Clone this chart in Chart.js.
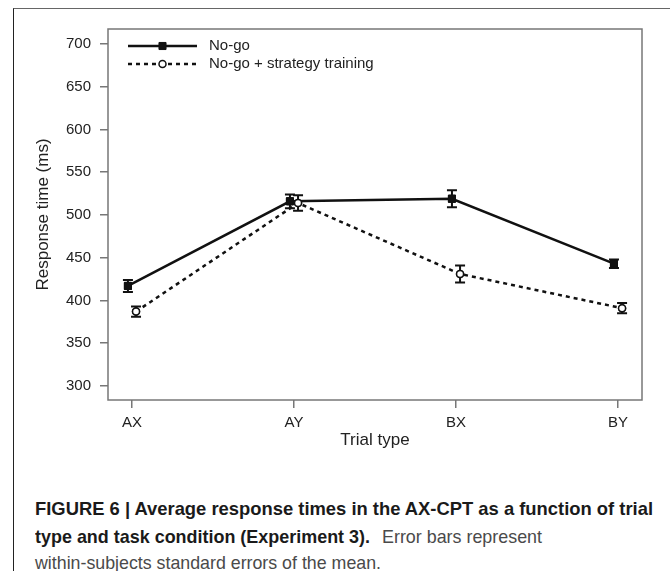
<!DOCTYPE html>
<html>
<head>
<meta charset="utf-8">
<script src="https://cdn.jsdelivr.net/npm/chart.js@4.4.1/dist/chart.umd.min.js"></script>
<style>
  html, body { margin: 0; padding: 0; background: #fff; }
  body { width: 670px; height: 571px; position: relative; overflow: hidden; font-family: "Liberation Sans", Arial, sans-serif; }
  #frame { position: absolute; left: 13px; top: 8px; width: 670px; height: 600px;
           border-top: 1.5px solid #666; border-left: 1.5px solid #222; }
  #wrap { position: absolute; left: 0; top: 0; width: 670px; height: 460px; }
  .cap { position: absolute; font-size: 19px; white-space: nowrap; display: inline-block; transform-origin: 0 0; }
  .bold { font-weight: bold; color: #1a1a1a; }
  .reg { color: #4a4a4a; }
</style>
</head>
<body>
<div id="frame"></div>
<div id="wrap"><canvas id="chart" width="670" height="460"></canvas></div>
<span class="cap bold" style="left:35px;top:498px" data-w="618">FIGURE 6 | Average response times in the AX-CPT as a function of trial</span>
<span class="cap bold" style="left:35px;top:526px" data-w="335">type and task condition (Experiment 3).</span>
<span class="cap reg" style="left:382px;top:526px" data-w="160">Error bars represent</span>
<span class="cap reg" style="left:35px;top:552px" data-w="346">within-subjects standard errors of the mean.</span>
<script>
const trialTypes = ["AX", "AY", "BX", "BY"];
const noGo = [417, 516, 519, 443];
const noGoSE = [7, 8, 10, 5];
const strategy = [387, 514, 431, 391];
const strategySE = [6, 9, 10, 6];
const yTicks = [300, 350, 400, 450, 500, 550, 600, 650, 700];

const DODGE = 0.025;

function toPoints(values, shift) {
  return values.map((v, i) => ({ x: i + shift, y: v }));
}

// squeeze caption lines to the widths of the printed figure
document.querySelectorAll(".cap").forEach((el) => {
  const w = el.getBoundingClientRect().width;
  el.style.transform = `scaleX(${Number(el.dataset.w) / w})`;
});

// whiskers with caps, drawn from the SE arrays
const errorBars = {
  id: "errorBars",
  afterDatasetsDraw(chart) {
    const ctx = chart.ctx;
    const x = chart.scales.x;
    const y = chart.scales.y;
    chart.data.datasets.forEach((ds) => {
      ctx.save();
      ctx.strokeStyle = "#111";
      ctx.lineWidth = 2;
      ds.data.forEach((p, i) => {
        const px = x.getPixelForValue(p.x);
        const top = y.getPixelForValue(p.y + ds.se[i]);
        const bot = y.getPixelForValue(p.y - ds.se[i]);
        ctx.beginPath();
        ctx.moveTo(px, top);
        ctx.lineTo(px, bot);
        ctx.moveTo(px - 5, top);
        ctx.lineTo(px + 5, top);
        ctx.moveTo(px - 5, bot);
        ctx.lineTo(px + 5, bot);
        ctx.stroke();
      });
      ctx.restore();
    });
    // points back on top of the whiskers
    chart.data.datasets.forEach((ds, di) => {
      chart.getDatasetMeta(di).data.forEach((el) => el.draw(ctx, chart.chartArea));
    });
  },
};

// plot box
const plotBox = {
  id: "plotBox",
  afterDraw(chart) {
    const { ctx, chartArea: a } = chart;
    ctx.save();
    ctx.strokeStyle = "#777";
    ctx.lineWidth = 1.5;
    ctx.strokeRect(a.left, a.top, a.right - a.left, a.bottom - a.top);
    ctx.restore();
  },
};

// legend inside the plot: line sample with marker in the middle
const lineLegend = {
  id: "lineLegend",
  afterDraw(chart) {
    const ctx = chart.ctx;
    const a = chart.chartArea;
    ctx.save();
    chart.data.datasets.forEach((ds, i) => {
      const yy = a.top + 17 + i * 18;
      const x0 = a.left + 20;
      const x1 = a.left + 89;
      const xm = (x0 + x1) / 2;
      ctx.strokeStyle = ds.borderColor;
      ctx.lineWidth = ds.borderWidth;
      ctx.setLineDash(ds.borderDash || []);
      ctx.beginPath();
      ctx.moveTo(x0, yy);
      ctx.lineTo(x1, yy);
      ctx.stroke();
      ctx.setLineDash([]);
      ctx.fillStyle = ds.pointBackgroundColor;
      ctx.strokeStyle = ds.pointBorderColor;
      ctx.lineWidth = ds.pointBorderWidth;
      ctx.beginPath();
      if (ds.pointStyle === "rect") {
        const s = ds.pointRadius * Math.SQRT1_2;
        ctx.rect(xm - s, yy - s, 2 * s, 2 * s);
      } else {
        ctx.arc(xm, yy, ds.pointRadius, 0, Math.PI * 2);
      }
      ctx.fill();
      ctx.stroke();
      ctx.fillStyle = "#222";
      ctx.font = '15px "Liberation Sans", Arial, sans-serif';
      ctx.textBaseline = "middle";
      ctx.fillText(ds.label, a.left + 101, yy);
    });
    ctx.restore();
  },
};

Chart.defaults.font.family = '"Liberation Sans", Arial, sans-serif';
Chart.defaults.color = "#222";

new Chart(document.getElementById("chart"), {
  type: "line",
  data: {
    datasets: [
      {
        label: "No-go",
        data: toPoints(noGo, -DODGE),
        se: noGoSE,
        borderColor: "#111",
        borderWidth: 2.5,
        pointStyle: "rect",
        pointRadius: 5,
        pointBackgroundColor: "#111",
        pointBorderColor: "#111",
        pointBorderWidth: 1,
      },
      {
        label: "No-go + strategy training",
        data: toPoints(strategy, DODGE),
        se: strategySE,
        borderColor: "#111",
        borderWidth: 2.5,
        borderDash: [4, 4],
        pointStyle: "circle",
        pointRadius: 3.5,
        pointBackgroundColor: "#fff",
        pointBorderColor: "#111",
        pointBorderWidth: 1.5,
      },
    ],
  },
  options: {
    responsive: false,
    animation: false,
    devicePixelRatio: 1,
    layout: { padding: { left: 20, right: 28, top: 29, bottom: 9 } },
    scales: {
      x: {
        type: "linear",
        min: -0.148,
        max: 3.148,
        afterBuildTicks: (scale) => {
          scale.ticks = trialTypes.map((_, i) => ({ value: i }));
        },
        afterFit: (scale) => {
          scale.height = 51;
        },
        ticks: {
          font: { size: 15 },
          padding: 6,
          maxRotation: 0,
          callback: (value) => trialTypes[value],
        },
        grid: { drawOnChartArea: false, drawTicks: true, tickLength: 8, color: "#777", lineWidth: 1.5 },
        border: { display: false },
        title: { display: true, text: "Trial type", font: { size: 17 }, padding: { top: 0, bottom: 0 } },
      },
      y: {
        min: 283.6,
        max: 717.5,
        afterBuildTicks: (scale) => {
          scale.ticks = yTicks.map((v) => ({ value: v }));
        },
        afterFit: (scale) => {
          scale.width = 88;
        },
        ticks: { font: { size: 15 }, padding: 9 },
        grid: { drawOnChartArea: false, drawTicks: true, tickLength: 8, color: "#777", lineWidth: 1.5 },
        border: { display: false },
        title: { display: true, text: "Response time (ms)", font: { size: 17 }, padding: { top: 13, bottom: 0 } },
      },
    },
    plugins: {
      legend: { display: false },
      tooltip: { enabled: false },
    },
  },
  plugins: [errorBars, plotBox, lineLegend],
});
</script>
</body>
</html>
